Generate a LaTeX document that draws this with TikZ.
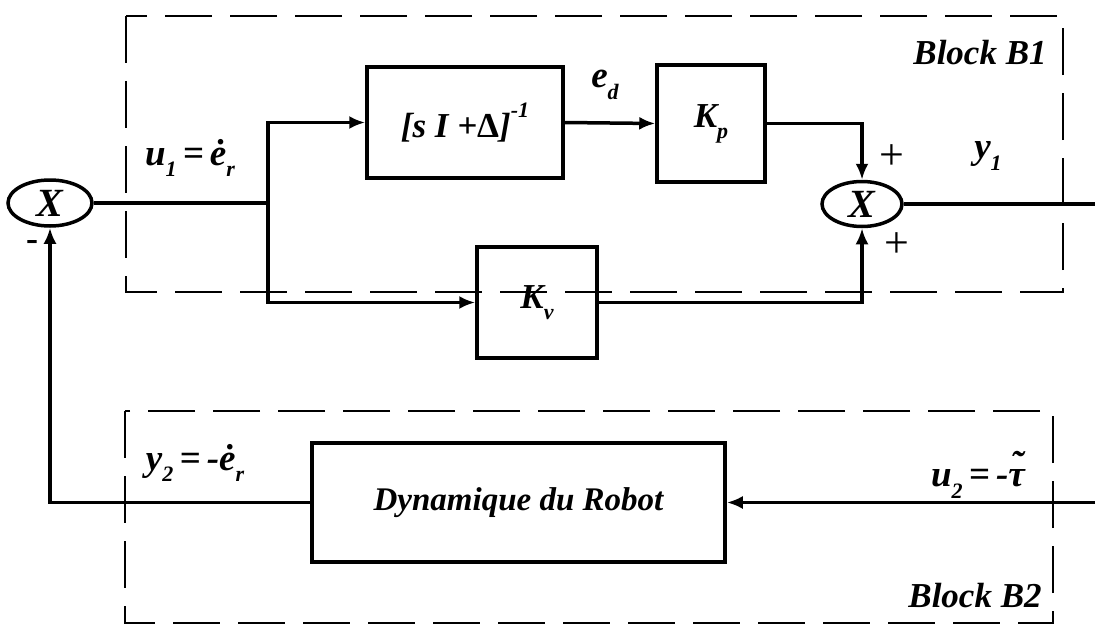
\documentclass[tikz,border=0pt]{standalone}
\usepackage{fontspec}
\setmainfont{Liberation Serif}
\usetikzlibrary{shapes.geometric,arrows.meta}
\newcommand{\sbs}[1]{\raisebox{-0.32em}{\fontsize{22}{22}\selectfont #1}}
\newcommand{\sps}[1]{\raisebox{0.55em}{\fontsize{22}{22}\selectfont #1}}
\newcommand{\tildetau}{\makebox[0pt][l]{\hspace{0.06em}\raisebox{0.28em}{˜}}τ}
\begin{document}
\begin{tikzpicture}[x=1pt,y=-1pt,
  lbl/.style={font=\fontsize{37}{40}\selectfont\bfseries\itshape, inner sep=0pt},
  blk/.style={draw, line width=3.5pt, rectangle, inner sep=0pt, font=\fontsize{35}{40}\selectfont\bfseries\itshape},
  summ/.style={draw, ellipse, line width=3.5pt, inner sep=0pt, minimum width=84pt, minimum height=46pt, font=\fontsize{40}{40}\selectfont\bfseries\itshape},
  wire/.style={line width=3.5pt},
  arr/.style={line width=3.5pt, -{Latex[length=16pt,width=13pt]}},
  grp/.style={draw, dash pattern=on 47pt off 18pt, line width=2.5pt},
  sgn/.style={font=\fontsize{44}{44}\selectfont, inner sep=0pt}
]
\useasboundingbox (0,0) rectangle (1095,634);
% group boxes
\draw[grp] (126,16) rectangle (1063,292);
\draw[grp] (125,411) rectangle (1053,623);
% nodes
\node[summ] (sumL) at (50,203) {X};
\node[summ, minimum width=80pt, minimum height=45pt] (sumR) at (862,204) {X};
\node[blk, minimum width=196pt, minimum height=111pt] (inv) at (465,122.5) {[s I +{\upshape Δ}]\sps{-1}};
\node[blk, minimum width=108pt, minimum height=117pt] (kp) at (711,123.5) {K\sbs{p}};
\node[blk, minimum width=120pt, minimum height=111pt] (kv) at (537,302.5) {K\sbs{v}};
\node[blk, minimum width=413pt, minimum height=119pt, font=\fontsize{33}{40}\selectfont\bfseries\itshape] (dyn) at (518.5,502.5) {Dynamique du Robot};
\coordinate (br) at (268,203);
\coordinate (yout) at (1095,204);
\coordinate (uin) at (1095,502.5);
% connectors
\draw[wire] (sumL.east) -- (br);
\draw[arr] (br) |- (inv.west);
\draw[arr] (br) |- (kv.west);
\draw[arr] (inv.east) -- (kp.west);
\draw[arr] (kp.east) -| (sumR.north);
\draw[arr] (kv.east) -| (sumR.south);
\draw[wire] (sumR.east) -- (yout);
\draw[arr] (uin) -- (dyn.east);
\draw[arr] (dyn.west) -| (sumL.south);
% labels
\node[lbl] (u1) at (190,158) {u\sbs{1}\,=\,ė\sbs{r}};
\node[lbl] (ed) at (605,85) {e\sbs{d}};
\node[lbl] (y1) at (988,156) {y\sbs{1}};
\node[lbl] (y2) at (195,463) {y\sbs{2}\,=\,-ė\sbs{r}};
\node[lbl] (u2) at (978,475) {u\sbs{2}\,=\,-\tildetau};
\node[lbl, font=\fontsize{35}{40}\selectfont\bfseries\itshape] (b1) at (980,53) {Block B1};
\node[lbl, font=\fontsize{35}{40}\selectfont\bfseries\itshape] (b2) at (975,596) {Block B2};
\node[sgn] (p1) at (892,157) {+};
\node[sgn] (p2) at (897,245) {+};
\node[sgn, font=\fontsize{36}{36}\selectfont\bfseries] (m1) at (32,245) {-};
\end{tikzpicture}
\end{document}
